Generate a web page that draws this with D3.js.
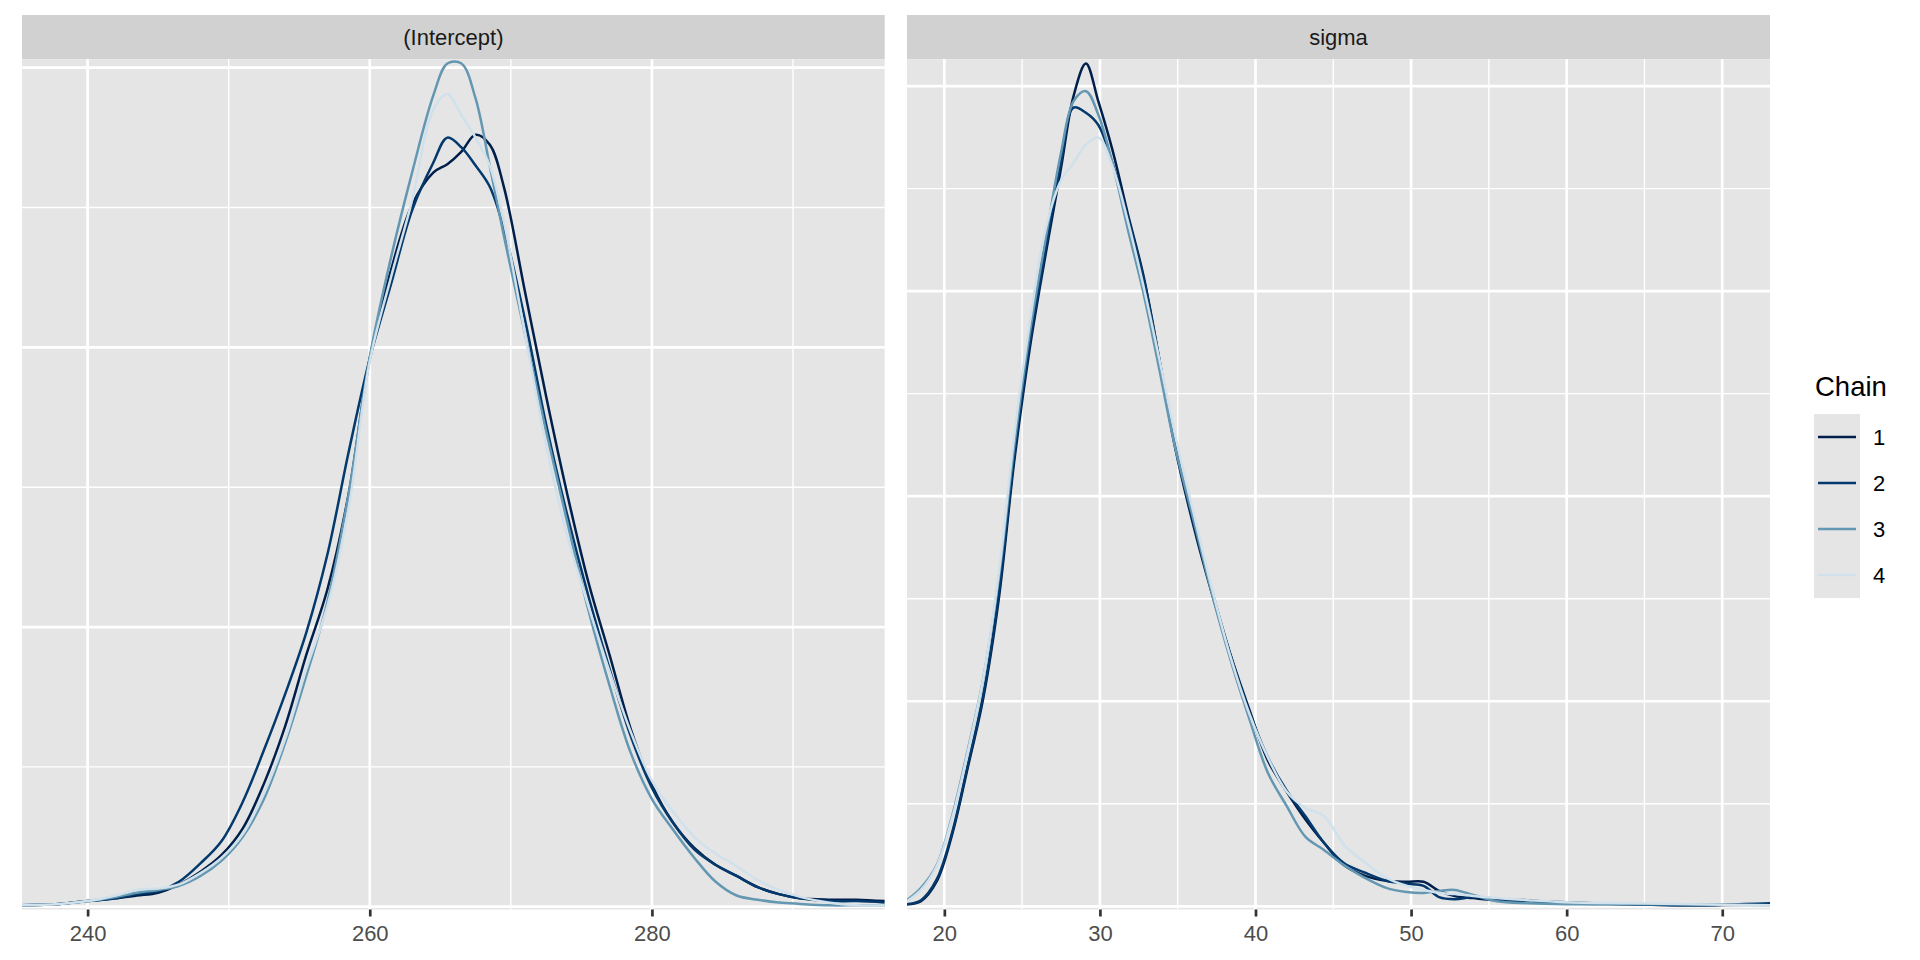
<!DOCTYPE html>
<html>
<head>
<meta charset="utf-8">
<script src="https://cdn.jsdelivr.net/npm/d3@7"></script>
<style>
  html, body { margin: 0; padding: 0; background: #ffffff; }
  svg { display: block; }
  text { font-family: "Liberation Sans", Arial, Helvetica, sans-serif; }
</style>
</head>
<body>
<svg id="chart" width="1920" height="960"></svg>
<script>
// ---------------- DATA ----------------
const chainNames = ["1", "2", "3", "4"];
const chainColors = ["#011f4b", "#03396c", "#6497b1", "#d1e1ec"];
const panelTitles = ["(Intercept)", "sigma"];

// (Intercept) density estimates
const interceptX = [235.35, 238, 240, 242, 243.5, 245, 246.5, 248, 249.5, 251, 252.5, 254, 255.5, 257, 258.5, 260, 261.5, 263, 264.5, 265.5, 266.5, 267.5, 268.5, 269.5, 271, 272.5, 274, 275.5, 277, 278.5, 280, 281.5, 283, 284.5, 286, 287.5, 289, 290.5, 292.5, 294.5, 296.5];
const interceptChain1 = [0.0001, 0.0002, 0.0004, 0.0006, 0.0008, 0.0010, 0.0016, 0.0025, 0.0037, 0.0056, 0.0088, 0.0129, 0.0180, 0.0227, 0.0295, 0.0392, 0.0455, 0.0502, 0.0525, 0.0531, 0.0540, 0.0552, 0.0545, 0.0515, 0.0440, 0.0365, 0.0295, 0.0232, 0.0180, 0.0127, 0.0087, 0.0060, 0.0042, 0.0030, 0.0022, 0.0014, 0.0009, 0.0006, 0.0005, 0.0005, 0.0004];
const interceptChain2 = [0.0001, 0.0002, 0.0004, 0.0006, 0.0009, 0.0011, 0.0018, 0.0031, 0.0047, 0.0075, 0.0112, 0.0152, 0.0196, 0.0252, 0.0325, 0.0392, 0.0445, 0.0498, 0.0532, 0.0550, 0.0543, 0.0530, 0.0515, 0.0485, 0.0420, 0.0345, 0.0280, 0.0222, 0.0170, 0.0122, 0.0085, 0.0060, 0.0041, 0.0030, 0.0022, 0.0014, 0.0009, 0.0006, 0.0004, 0.0004, 0.0003];
const interceptChain3 = [0.0001, 0.0002, 0.0004, 0.0007, 0.0010, 0.0012, 0.0015, 0.0022, 0.0033, 0.0050, 0.0077, 0.0117, 0.0165, 0.0218, 0.0295, 0.0393, 0.0464, 0.0525, 0.0580, 0.0603, 0.0603, 0.0578, 0.0530, 0.0480, 0.0410, 0.0340, 0.0275, 0.0212, 0.0158, 0.0110, 0.0077, 0.0055, 0.0035, 0.0018, 0.0008, 0.0005, 0.0003, 0.0002, 0.0001, 0.0001, 0.0001];
const interceptChain4 = [0.0001, 0.0002, 0.0004, 0.0008, 0.0012, 0.0013, 0.0016, 0.0024, 0.0035, 0.0052, 0.0081, 0.0120, 0.0170, 0.0215, 0.0285, 0.0390, 0.0450, 0.0505, 0.0570, 0.0581, 0.0566, 0.0550, 0.0530, 0.0490, 0.0410, 0.0330, 0.0265, 0.0215, 0.0168, 0.0125, 0.0090, 0.0068, 0.0050, 0.0038, 0.0029, 0.0019, 0.0012, 0.0007, 0.0003, 0.0001, 0.0001];
const interceptTicks = [240, 260, 280];
const interceptMinorX = [250, 270, 290];
const interceptMajorY = [0, 0.02, 0.04, 0.06];
const interceptMinorY = [0.01, 0.03, 0.05];

// sigma density estimates
const sigmaX = [17.6, 18.5, 19.5, 20.5, 21.5, 22.5, 23.5, 24.5, 25.5, 26.5, 27.5, 28.3, 29.1, 29.9, 30.8, 31.8, 32.8, 33.8, 34.8, 36, 37.2, 38.4, 39.6, 40.8, 42, 43.2, 44.4, 45.7, 47, 48.4, 49.7, 50.8, 51.8, 52.8, 54, 55.5, 57.5, 60, 64, 68, 73.07];
const sigmaChain1 = [0.0002, 0.0005, 0.0024, 0.0070, 0.0135, 0.0203, 0.0300, 0.0435, 0.0545, 0.0635, 0.0720, 0.0790, 0.0822, 0.0785, 0.0738, 0.0675, 0.0615, 0.0535, 0.0450, 0.0372, 0.0305, 0.0245, 0.0192, 0.0142, 0.0112, 0.0085, 0.0062, 0.0040, 0.0030, 0.0025, 0.0024, 0.0024, 0.0015, 0.0010, 0.0008, 0.0006, 0.0006, 0.0003, 0.0002, 0.0001, 0.0002];
const sigmaChain2 = [0.0002, 0.0006, 0.0026, 0.0072, 0.0137, 0.0206, 0.0305, 0.0440, 0.0550, 0.0640, 0.0725, 0.0779, 0.0774, 0.0762, 0.0725, 0.0672, 0.0613, 0.0535, 0.0452, 0.0375, 0.0308, 0.0245, 0.0190, 0.0145, 0.0113, 0.0088, 0.0062, 0.0042, 0.0033, 0.0025, 0.0022, 0.0020, 0.0009, 0.0007, 0.0009, 0.0007, 0.0005, 0.0004, 0.0002, 0.0001, 0.0003];
const sigmaChain3 = [0.0006, 0.0018, 0.0040, 0.0088, 0.0152, 0.0222, 0.0320, 0.0450, 0.0560, 0.0650, 0.0735, 0.0785, 0.0795, 0.0772, 0.0725, 0.0660, 0.0598, 0.0525, 0.0450, 0.0378, 0.0305, 0.0240, 0.0183, 0.0130, 0.0098, 0.0068, 0.0055, 0.0040, 0.0028, 0.0018, 0.0014, 0.0013, 0.0015, 0.0016, 0.0011, 0.0005, 0.0003, 0.0002, 0.0002, 0.0002, 0.0001];
const sigmaChain4 = [0.0005, 0.0016, 0.0039, 0.0086, 0.0150, 0.0222, 0.0325, 0.0460, 0.0570, 0.0660, 0.0708, 0.0725, 0.0743, 0.0750, 0.0722, 0.0668, 0.0605, 0.0535, 0.0462, 0.0385, 0.0310, 0.0243, 0.0188, 0.0145, 0.0112, 0.0096, 0.0088, 0.0060, 0.0043, 0.0028, 0.0020, 0.0016, 0.0013, 0.0012, 0.0010, 0.0008, 0.0006, 0.0004, 0.0003, 0.0002, 0.0001];
const sigmaTicks = [20, 30, 40, 50, 60, 70];
const sigmaMinorX = [25, 35, 45, 55, 65];
const sigmaMajorY = [0, 0.02, 0.04, 0.06, 0.08];
const sigmaMinorY = [0.01, 0.03, 0.05, 0.07];

// ---------------- LAYOUT ----------------
const panelTop = 59.3, panelBottom = 909.5;
const stripTop = 15;
const panels = [
  { title: panelTitles[0], left: 22, right: 884.7, xs: interceptX,
    series: [interceptChain1, interceptChain2, interceptChain3, interceptChain4],
    ticks: interceptTicks, minorX: interceptMinorX, majorY: interceptMajorY, minorY: interceptMinorY },
  { title: panelTitles[1], left: 907, right: 1770, xs: sigmaX,
    series: [sigmaChain1, sigmaChain2, sigmaChain3, sigmaChain4],
    ticks: sigmaTicks, minorX: sigmaMinorX, majorY: sigmaMajorY, minorY: sigmaMinorY }
];

const panelBg = "#E5E5E5";
const stripBg = "#D1D1D1";

const svg = d3.select("#chart");
const defs = svg.append("defs");

panels.forEach((p, i) => {
  const x = d3.scaleLinear().domain(d3.extent(p.xs)).range([p.left, p.right]);
  const all = p.series.flat();
  const lo = d3.min(all), hi = d3.max(all);
  const ex = (hi - lo) * 0.005;
  const y = d3.scaleLinear().domain([lo - ex, hi + ex]).range([panelBottom, panelTop]);

  const g = svg.append("g");

  // strip
  g.append("rect").attr("x", p.left).attr("y", stripTop)
    .attr("width", p.right - p.left).attr("height", panelTop - stripTop)
    .attr("fill", stripBg);
  g.append("text").attr("x", (p.left + p.right) / 2).attr("y", (stripTop + panelTop) / 2)
    .attr("dy", "0.36em").attr("text-anchor", "middle")
    .attr("font-size", 22).attr("fill", "#1A1A1A").text(p.title);

  // panel background
  g.append("rect").attr("x", p.left).attr("y", panelTop)
    .attr("width", p.right - p.left).attr("height", panelBottom - panelTop)
    .attr("fill", panelBg);

  // minor grid
  g.selectAll(".minx").data(p.minorX).join("line")
    .attr("x1", d => x(d)).attr("x2", d => x(d))
    .attr("y1", panelTop).attr("y2", panelBottom)
    .attr("stroke", "#ffffff").attr("stroke-width", 1.4);
  g.selectAll(".miny").data(p.minorY).join("line")
    .attr("x1", p.left).attr("x2", p.right)
    .attr("y1", d => y(d)).attr("y2", d => y(d))
    .attr("stroke", "#ffffff").attr("stroke-width", 1.4);
  // major grid
  g.selectAll(".majx").data(p.ticks).join("line")
    .attr("x1", d => x(d)).attr("x2", d => x(d))
    .attr("y1", panelTop).attr("y2", panelBottom)
    .attr("stroke", "#ffffff").attr("stroke-width", 2.7);
  g.selectAll(".majy").data(p.majorY).join("line")
    .attr("x1", p.left).attr("x2", p.right)
    .attr("y1", d => y(d)).attr("y2", d => y(d))
    .attr("stroke", "#ffffff").attr("stroke-width", 2.7);

  // clip
  const clipId = "clip" + i;
  defs.append("clipPath").attr("id", clipId).append("rect")
    .attr("x", p.left).attr("y", panelTop)
    .attr("width", p.right - p.left).attr("height", panelBottom - panelTop);

  const line = d3.line()
    .x((d, k) => x(p.xs[k]))
    .y(d => y(d))
    .curve(d3.curveCatmullRom.alpha(0.5));

  const lg = g.append("g").attr("clip-path", `url(#${clipId})`);
  p.series.forEach((s, k) => {
    lg.append("path").attr("d", line(s))
      .attr("fill", "none").attr("stroke", chainColors[k])
      .attr("stroke-width", 2.5).attr("stroke-linejoin", "round");
  });

  // x axis
  const axis = d3.axisBottom(x).tickValues(p.ticks).tickSize(7).tickPadding(9)
    .tickFormat(d3.format("d"));
  const ag = svg.append("g").attr("transform", `translate(0,${panelBottom})`).call(axis);
  ag.select(".domain").remove();
  ag.selectAll(".tick line").attr("stroke", "#333333").attr("stroke-width", 2.7);
  ag.selectAll(".tick text").attr("fill", "#4D4D4D").attr("font-size", 22)
    .attr("font-family", "'Liberation Sans', Arial, Helvetica, sans-serif");
});

// ---------------- LEGEND ----------------
const legX = 1814, legKeyTop = 414, keyW = 46, keyH = 46;
svg.append("text").attr("x", 1815).attr("y", 396)
  .attr("font-size", 27.5).attr("fill", "#000000").text("Chain");
const lgd = svg.append("g");
chainNames.forEach((c, k) => {
  const ky = legKeyTop + k * keyH;
  lgd.append("rect").attr("x", legX).attr("y", ky).attr("width", keyW).attr("height", keyH)
    .attr("fill", panelBg);
  lgd.append("line").attr("x1", legX + 4).attr("x2", legX + keyW - 4)
    .attr("y1", ky + keyH / 2).attr("y2", ky + keyH / 2)
    .attr("stroke", chainColors[k]).attr("stroke-width", 2.5);
  lgd.append("text").attr("x", 1873).attr("y", ky + keyH / 2).attr("dy", "0.36em")
    .attr("font-size", 22).attr("fill", "#000000").text(c);
});
</script>
</body>
</html>
